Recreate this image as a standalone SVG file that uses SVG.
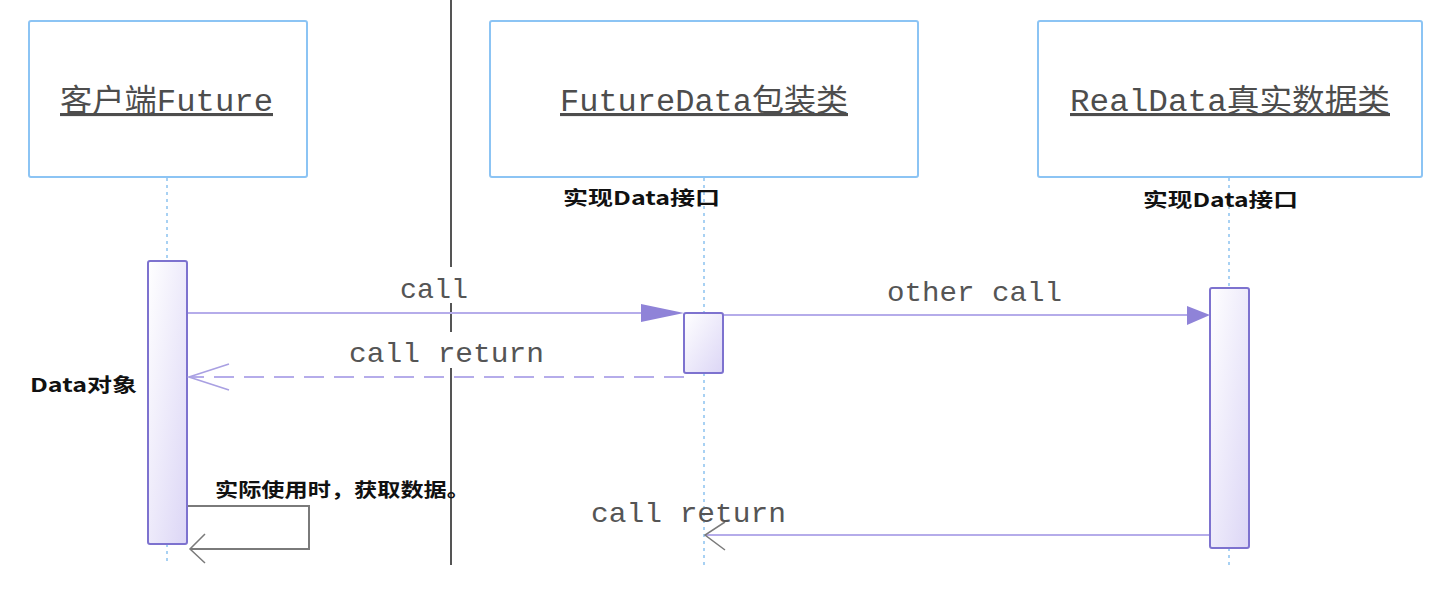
<svg xmlns="http://www.w3.org/2000/svg" width="1442" height="590" viewBox="0 0 1442 590">
<style>
.box{fill:#fff;stroke:#8cc4f4;stroke-width:2}
.title{font-family:"Liberation Mono","Noto Sans CJK SC",monospace;font-size:31px;fill:#4d4d4d;text-decoration:underline}
.life{stroke:#8cc2f0;stroke-width:1.5;stroke-dasharray:3 4;fill:none}
.act{fill:url(#ag);stroke:#7d72cf;stroke-width:2}
.msg{stroke:#b5acea;stroke-width:2;fill:none}
.dash{stroke-dasharray:20 10}
.open{stroke:#a9a0e2;stroke-width:1.6;fill:none}
.gray{stroke:#7a7a7a;stroke-width:2;fill:none}
.lbl{font-family:"Liberation Mono",monospace;font-size:28px;fill:#555}
.note{font-family:"Noto Sans CJK SC",sans-serif;font-size:19px;font-weight:bold;fill:#111}
</style>
<defs>
<linearGradient id="ag" x1="0" y1="0" x2="1" y2="1">
<stop offset="0" stop-color="#ffffff"/>
<stop offset="1" stop-color="#dcd6f6"/>
</linearGradient>
</defs>
<rect width="1442" height="590" fill="#fff"/>
<g id="separator">
<line x1="451" y1="0" x2="451" y2="267" stroke="#555" stroke-width="2"/>
<line x1="451" y1="303" x2="451" y2="332" stroke="#555" stroke-width="2"/>
<line x1="451" y1="368" x2="451" y2="565" stroke="#555" stroke-width="2"/>
</g>
<g id="lifelines">
<line class="life" x1="167" y1="178" x2="167" y2="261"/>
<line class="life" x1="167" y1="544" x2="167" y2="565"/>
<line class="life" x1="704" y1="178" x2="704" y2="313"/>
<line class="life" x1="704" y1="373" x2="704" y2="565"/>
<line class="life" x1="1229" y1="178" x2="1229" y2="288"/>
<line class="life" x1="1229" y1="548" x2="1229" y2="565"/>
</g>
<g id="client">
<rect class="box" x="29" y="21" width="278" height="156" rx="2"/>
<text class="title" x="60" y="111" textLength="213" lengthAdjust="spacingAndGlyphs">客户端Future</text>
<rect class="act" x="148" y="261" width="39" height="283" rx="2"/>
<text class="note" x="30" y="392" textLength="107" lengthAdjust="spacingAndGlyphs">Data对象</text>
</g>
<g id="futuredata">
<rect class="box" x="490" y="21" width="428" height="156" rx="2"/>
<text class="title" x="560" y="111" textLength="288" lengthAdjust="spacingAndGlyphs">FutureData包装类</text>
<text class="note" x="563" y="205" textLength="157" lengthAdjust="spacingAndGlyphs">实现Data接口</text>
<rect class="act" x="684" y="313" width="39" height="60" rx="2"/>
</g>
<g id="realdata">
<rect class="box" x="1038" y="21" width="384" height="156" rx="2"/>
<text class="title" x="1070" y="111" textLength="320" lengthAdjust="spacingAndGlyphs">RealData真实数据类</text>
<text class="note" x="1143" y="207" textLength="155" lengthAdjust="spacingAndGlyphs">实现Data接口</text>
<rect class="act" x="1210" y="288" width="39" height="260" rx="2"/>
</g>
<g id="connectors">
<line class="msg" x1="188" y1="313" x2="642" y2="313"/>
<polygon points="641,304 684,313 641,322" fill="#8f83d8"/>
<text class="lbl" x="400" y="298" textLength="68" lengthAdjust="spacingAndGlyphs">call</text>
<line class="msg dash" x1="684" y1="377" x2="190" y2="377"/>
<polyline class="open" points="229,364 189,377 229,390"/>
<text class="lbl" x="349" y="362" textLength="195" lengthAdjust="spacingAndGlyphs">call return</text>
<line class="msg" x1="724" y1="315" x2="1188" y2="315"/>
<polygon points="1187,306 1210,315 1187,325" fill="#8f83d8"/>
<text class="lbl" x="887" y="301" textLength="175" lengthAdjust="spacingAndGlyphs">other call</text>
<line class="msg" x1="1209" y1="535" x2="706" y2="535"/>
<polyline class="gray" style="stroke-width:1.5" points="725,522 705,535 725,550"/>
<text class="lbl" x="591" y="522" textLength="195" lengthAdjust="spacingAndGlyphs">call return</text>
<polyline class="gray" points="188,506 309,506 309,549 191,549"/>
<polyline class="gray" style="stroke-width:1.5" points="205,534 190,549 205,563"/>
<text class="note" x="215" y="497" textLength="255" lengthAdjust="spacingAndGlyphs">实际使用时，获取数据。</text>
</g>
</svg>
